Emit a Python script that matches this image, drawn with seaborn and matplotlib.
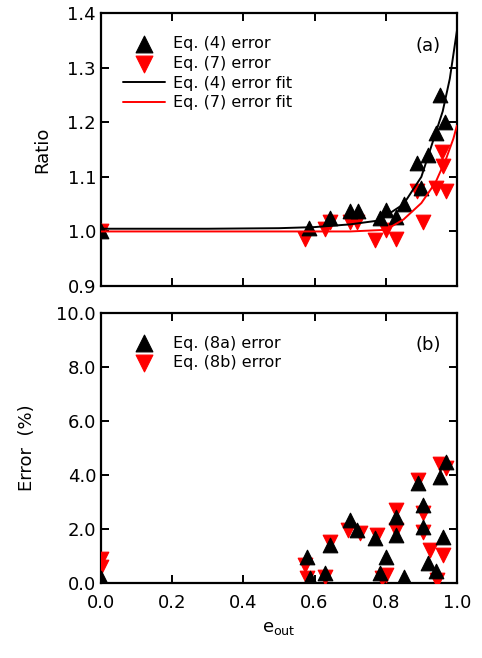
import matplotlib
matplotlib.use("Agg")
import matplotlib.pyplot as plt
import seaborn as sns

# ---- panel (a): ratio data -------------------------------------------
eq4_x = [0.0, 0.584, 0.643, 0.70, 0.722, 0.784, 0.80, 0.83, 0.85, 0.887,
         0.90, 0.92, 0.94, 0.952, 0.966]
eq4_y = [1.0, 1.007, 1.024, 1.037, 1.037, 1.024, 1.04, 1.026, 1.05, 1.126,
         1.079, 1.14, 1.18, 1.25, 1.20]
eq7_x = [0.0, 0.573, 0.63, 0.643, 0.70, 0.72, 0.77, 0.80, 0.83, 0.887,
         0.905, 0.94, 0.957, 0.96, 0.97]
eq7_y = [1.0, 0.987, 1.005, 1.017, 1.017, 1.017, 0.985, 1.002, 0.987, 1.075,
         1.017, 1.079, 1.145, 1.12, 1.075]

# fit curves
fit4_x = [0.0, 0.3, 0.5, 0.6, 0.7, 0.78, 0.85, 0.9, 0.93, 0.96, 0.98, 1.0]
fit4_y = [1.005, 1.005, 1.006, 1.008, 1.013, 1.02, 1.05, 1.10, 1.16, 1.22, 1.28, 1.368]
fit7_x = [0.0, 0.3, 0.5, 0.6, 0.7, 0.8, 0.85, 0.9, 0.94, 0.97, 0.99, 1.0]
fit7_y = [1.0, 1.0, 1.0, 1.0, 1.0, 1.003, 1.022, 1.052, 1.09, 1.134, 1.17, 1.194]

# ---- panel (b): error data -------------------------------------------
eq8a_x = [0.0, 0.578, 0.587, 0.63, 0.643, 0.70, 0.72, 0.77, 0.785, 0.80,
          0.83, 0.83, 0.85, 0.89, 0.905, 0.905, 0.92, 0.94, 0.952, 0.96, 0.97]
eq8a_y = [0.2, 0.96, 0.18, 0.37, 1.4, 2.33, 1.96, 1.67, 0.37, 0.96,
          2.44, 1.78, 0.22, 3.7, 2.89, 2.07, 0.74, 0.44, 3.93, 1.7, 4.48]
eq8b_x = [0.0, 0.0, 0.573, 0.58, 0.63, 0.643, 0.695, 0.727, 0.775, 0.79,
          0.80, 0.83, 0.83, 0.89, 0.905, 0.905, 0.924, 0.944, 0.952, 0.96, 0.97]
eq8b_y = [0.9, 0.6, 0.67, 0.18, 0.22, 1.5, 1.96, 1.85, 1.78, 0.18,
          0.3, 2.7, 1.96, 3.8, 2.6, 1.9, 1.22, 0.1, 4.4, 1.04, 4.26]

sns.set_theme(style="ticks")
plt.rcParams["font.family"] = ["DejaVu Sans"]
plt.rcParams["axes.linewidth"] = 1.6
plt.rcParams["text.color"] = "black"
plt.rcParams["axes.labelcolor"] = "black"

fig = plt.figure(figsize=(4.82, 6.58), dpi=100)
ax1 = fig.add_axes([0.2095, 0.5653, 0.7385, 0.4147])
ax2 = fig.add_axes([0.2095, 0.114, 0.7385, 0.4103])

ms = 110
leg_kw = dict(loc="upper left", bbox_to_anchor=(0.045, 0.94), frameon=False,
              fontsize=11.5, labelspacing=0.3, handlelength=2.6,
              handletextpad=0.5, borderaxespad=0, markerscale=1.15)

# (a)
sns.scatterplot(x=eq7_x, y=eq7_y, marker="v", color="red", edgecolor="red",
                s=ms, ax=ax1, label="Eq. (7) error", zorder=3)
sns.scatterplot(x=eq4_x, y=eq4_y, marker="^", color="black", edgecolor="black",
                s=ms, ax=ax1, label="Eq. (4) error", zorder=4)
sns.lineplot(x=fit4_x, y=fit4_y, color="black", lw=1.4, ax=ax1,
             label="Eq. (4) error fit", zorder=5)
sns.lineplot(x=fit7_x, y=fit7_y, color="red", lw=1.4, ax=ax1,
             label="Eq. (7) error fit", zorder=5)
h, l = ax1.get_legend_handles_labels()
order = [1, 0, 2, 3]
ax1.legend([h[i] for i in order], [l[i] for i in order], **leg_kw)
ax1.set_xlim(0, 1.0)
ax1.set_ylim(0.9, 1.4)
ax1.set_yticks([0.9, 1.0, 1.1, 1.2, 1.3, 1.4])
ax1.set_yticklabels([f"{v:.1f}" for v in [0.9, 1.0, 1.1, 1.2, 1.3, 1.4]])
ax1.set_xticks([0.0, 0.2, 0.4, 0.6, 0.8, 1.0])
ax1.tick_params(labelbottom=False)
ax1.set_ylabel("Ratio", fontsize=13, labelpad=12)
ax1.text(0.92, 0.88, "(a)", transform=ax1.transAxes, fontsize=13,
         ha="center", va="center")

# (b)
sns.scatterplot(x=eq8b_x, y=eq8b_y, marker="v", color="red", edgecolor="red",
                s=ms, ax=ax2, label="Eq. (8b) error", zorder=3)
sns.scatterplot(x=eq8a_x, y=eq8a_y, marker="^", color="black", edgecolor="black",
                s=ms, ax=ax2, label="Eq. (8a) error", zorder=4)
h, l = ax2.get_legend_handles_labels()
ax2.legend([h[1], h[0]], [l[1], l[0]], **leg_kw)
ax2.set_xlim(0, 1.0)
ax2.set_ylim(0, 10)
ax2.set_yticks([0, 2, 4, 6, 8, 10])
ax2.set_yticklabels([f"{v:.1f}" for v in [0, 2, 4, 6, 8, 10]])
ax2.set_xticks([0.0, 0.2, 0.4, 0.6, 0.8, 1.0])
ax2.set_xticklabels([f"{v:.1f}" for v in [0.0, 0.2, 0.4, 0.6, 0.8, 1.0]])
ax2.set_ylabel("Error  (%)", fontsize=13, labelpad=15)
ax2.set_xlabel(r"e$_{\mathrm{out}}$", fontsize=13, labelpad=5)
ax2.text(0.92, 0.88, "(b)", transform=ax2.transAxes, fontsize=13,
         ha="center", va="center")

for ax in (ax1, ax2):
    ax.tick_params(direction="in", top=True, right=True, length=6, width=1.4,
                   labelsize=13, colors="black")
    for sp in ax.spines.values():
        sp.set_color("black")
ax2.tick_params(axis="x", pad=8)

fig.savefig("out.png", dpi=100)
